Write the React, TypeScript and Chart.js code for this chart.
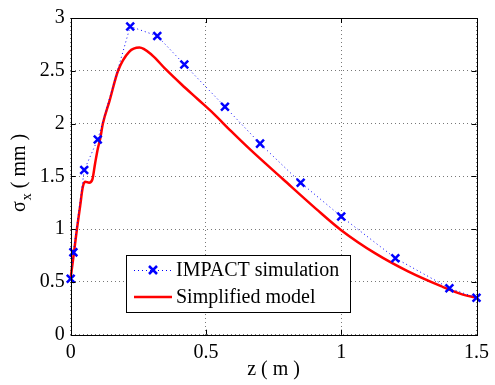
import React, { useEffect, useRef } from "react";
import { Chart, registerables } from "chart.js";

Chart.register(...registerables);

const Z_SIM = [0, 0.01, 0.05, 0.1, 0.22, 0.32, 0.42, 0.57, 0.7, 0.85, 1.0, 1.2, 1.4, 1.5];
const SIGMA_SIM = [0.53, 0.78, 1.56, 1.85, 2.92, 2.83, 2.56, 2.16, 1.81, 1.44, 1.12, 0.725, 0.44, 0.35];

const Z_MODEL = [0, 0.011, 0.023, 0.035, 0.044, 0.053, 0.068, 0.08, 0.09, 0.1, 0.109, 0.119, 0.143, 0.175, 0.216, 0.254, 0.3, 0.349, 0.41, 0.47, 0.53, 0.592, 0.665, 0.786, 0.908, 1.0, 1.126, 1.247, 1.369, 1.45, 1.5];
const SIGMA_MODEL = [0.54, 0.756, 1.0, 1.22, 1.39, 1.45, 1.44, 1.47, 1.62, 1.76, 1.855, 2.0, 2.21, 2.5, 2.68, 2.72, 2.65, 2.52, 2.37, 2.23, 2.09, 1.93, 1.75, 1.47, 1.19, 0.99, 0.77, 0.6, 0.46, 0.38, 0.35];

const X_TICKS = [0, 0.5, 1, 1.5];
const Y_TICKS = [0, 0.5, 1, 1.5, 2, 2.5, 3];

const SERIES_LABELS = ["IMPACT simulation", "Simplified model"];
const X_TITLE = "z ( m )";
const Y_TITLE_MAIN = "σ";
const Y_TITLE_SUB = "x";
const Y_TITLE_REST = " ( mm )";

const FONT = "'Liberation Serif', 'Times New Roman', serif";
const BLUE = "rgb(0,0,255)";
const RED = "rgb(255,0,0)";

const framePlugin = {
  id: "matlabFrame",
  afterDraw(chart: any) {
    const { ctx, chartArea } = chart;
    const { left, right, top, bottom } = chartArea;
    const xs = chart.scales.x;
    const ys = chart.scales.y;
    ctx.save();
    ctx.strokeStyle = "#000";
    ctx.lineWidth = 1;
    ctx.setLineDash([]);
    ctx.strokeRect(Math.round(left) + 0.5, Math.round(top) + 0.5, Math.round(right - left), Math.round(bottom - top));
    const tl = 5;
    ctx.beginPath();
    X_TICKS.forEach((v) => {
      const px = Math.round(xs.getPixelForValue(v)) + 0.5;
      ctx.moveTo(px, bottom);
      ctx.lineTo(px, bottom - tl);
      ctx.moveTo(px, top);
      ctx.lineTo(px, top + tl);
    });
    Y_TICKS.forEach((v) => {
      const py = Math.round(ys.getPixelForValue(v)) + 0.5;
      ctx.moveTo(left, py);
      ctx.lineTo(left + tl, py);
      ctx.moveTo(right, py);
      ctx.lineTo(right - tl, py);
    });
    ctx.stroke();

    // Axis titles
    ctx.fillStyle = "#000";
    ctx.font = `20px ${FONT}`;
    ctx.textAlign = "center";
    ctx.textBaseline = "middle";
    ctx.fillText(X_TITLE, (left + right) / 2, 370);

    ctx.save();
    ctx.translate(25, 212);
    ctx.rotate(-Math.PI / 2);
    ctx.textAlign = "left";
    ctx.textBaseline = "alphabetic";
    ctx.font = `20px ${FONT}`;
    ctx.fillText(Y_TITLE_MAIN, 0, 0);
    let w = ctx.measureText(Y_TITLE_MAIN).width;
    ctx.font = `14px ${FONT}`;
    ctx.fillText(Y_TITLE_SUB, w + 1, 6);
    w += ctx.measureText(Y_TITLE_SUB).width + 1;
    ctx.font = `20px ${FONT}`;
    ctx.fillText(Y_TITLE_REST, w, 0);
    ctx.restore();

    // Legend
    const bx = 126.5, by = 255.5, bw = 224, bh = 57;
    ctx.fillStyle = "#fff";
    ctx.fillRect(bx, by, bw, bh);
    ctx.strokeStyle = "#000";
    ctx.lineWidth = 1;
    ctx.strokeRect(bx, by, bw, bh);
    const rows = [270, 297];
    ctx.strokeStyle = BLUE;
    ctx.lineWidth = 1;
    ctx.setLineDash([1, 3]);
    ctx.beginPath();
    ctx.moveTo(134, rows[0] + 0.5);
    ctx.lineTo(172, rows[0] + 0.5);
    ctx.stroke();
    ctx.setLineDash([]);
    ctx.lineWidth = 2.5;
    const r = 4;
    ctx.beginPath();
    ctx.moveTo(153 - r, rows[0] - r);
    ctx.lineTo(153 + r, rows[0] + r);
    ctx.moveTo(153 - r, rows[0] + r);
    ctx.lineTo(153 + r, rows[0] - r);
    ctx.stroke();
    ctx.strokeStyle = RED;
    ctx.lineWidth = 2.5;
    ctx.beginPath();
    ctx.moveTo(134, rows[1]);
    ctx.lineTo(172, rows[1]);
    ctx.stroke();
    ctx.fillStyle = "#000";
    ctx.font = `20px ${FONT}`;
    ctx.textAlign = "left";
    ctx.textBaseline = "middle";
    ctx.fillText(SERIES_LABELS[0], 176, rows[0] + 1);
    ctx.fillText(SERIES_LABELS[1], 176, rows[1] + 1);
    ctx.restore();
  },
};

export default function App() {
  const ref = useRef<HTMLCanvasElement | null>(null);
  useEffect(() => {
    if (!ref.current) return;
    const chart = new Chart(ref.current, {
      type: "line",
      data: {
        datasets: [
          {
            label: SERIES_LABELS[0],
            data: Z_SIM.map((z, i) => ({ x: z, y: SIGMA_SIM[i] })),
            borderColor: BLUE,
            backgroundColor: BLUE,
            borderWidth: 1,
            borderDash: [1, 3],
            pointStyle: "crossRot",
            pointRadius: 5.5,
            pointBorderWidth: 2.5,
            pointBorderColor: BLUE,
            tension: 0,
            clip: false,
          },
          {
            label: SERIES_LABELS[1],
            data: Z_MODEL.map((z, i) => ({ x: z, y: SIGMA_MODEL[i] })),
            borderColor: RED,
            backgroundColor: RED,
            borderWidth: 2.5,
            pointRadius: 0,
            cubicInterpolationMode: "monotone",
            clip: false,
          },
        ],
      },
      options: {
        responsive: false,
        animation: false,
        layout: { padding: { top: 12, right: 12, left: 0, bottom: 0 } },
        plugins: {
          legend: { display: false },
          tooltip: { enabled: false },
          title: { display: false },
        },
        scales: {
          x: {
            type: "linear",
            min: 0,
            max: 1.5,
            afterFit: (s: any) => {
              s.height = 50.3;
            },
            afterBuildTicks: (s: any) => {
              s.ticks = X_TICKS.map((v) => ({ value: v }));
            },
            ticks: {
              color: "#000",
              font: { family: FONT, size: 20 },
              padding: 6,
              maxRotation: 0,
              callback: (v: any) => String(v),
            },
            grid: { color: "rgb(120,120,120)", drawTicks: false, lineWidth: 1 },
            border: { display: false, dash: [1, 3] },
          },
          y: {
            type: "linear",
            min: 0,
            max: 3,
            afterFit: (s: any) => {
              s.width = 70.7;
            },
            afterBuildTicks: (s: any) => {
              s.ticks = Y_TICKS.map((v) => ({ value: v }));
            },
            ticks: {
              color: "#000",
              font: { family: FONT, size: 20 },
              padding: 6,
              callback: (v: any) => String(v),
            },
            grid: { color: "rgb(120,120,120)", drawTicks: false, lineWidth: 1 },
            border: { display: false, dash: [1, 3] },
          },
        },
      },
      plugins: [framePlugin],
    });
    return () => chart.destroy();
  }, []);
  return (
    <div style={{ position: "absolute", left: 0, top: 0, width: 495, height: 385, background: "#fff" }}>
      <canvas ref={ref} width={495} height={385} />
    </div>
  );
}
